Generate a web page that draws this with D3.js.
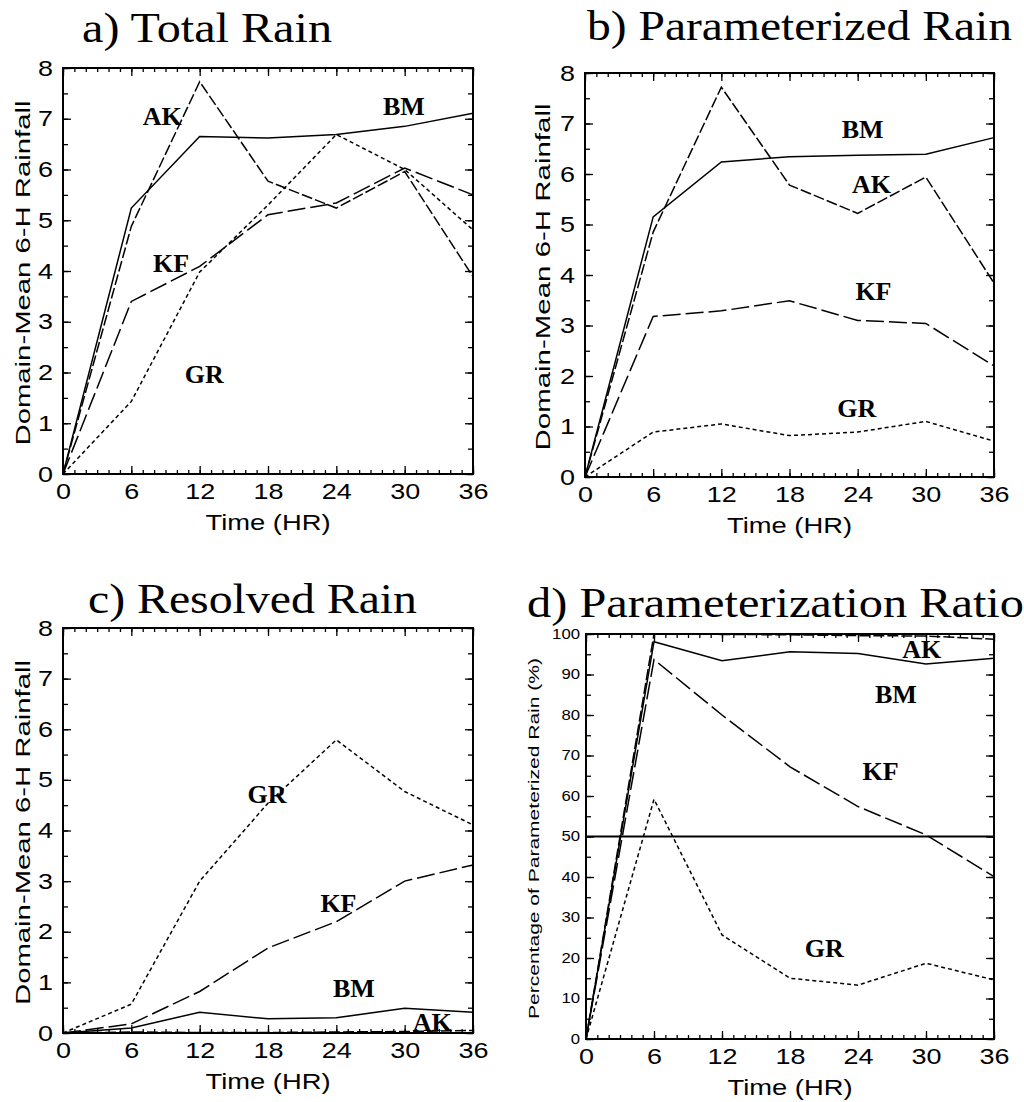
<!DOCTYPE html>
<html>
<head>
<meta charset="utf-8">
<script src="https://cdn.jsdelivr.net/npm/d3@7"></script>
<style>
  html, body { margin: 0; padding: 0; background: #fff; }
  svg { display: block; }
  .title { font-family: "Liberation Serif", "Times New Roman", serif; font-size: 42px; fill: #000; }
  .tick text { font-family: "Liberation Sans", "DejaVu Sans", sans-serif; fill: #000; }
  .axis-title { font-family: "Liberation Sans", "DejaVu Sans", sans-serif; fill: #000; }
  .series-label { font-family: "Liberation Serif", "Times New Roman", serif; font-size: 26px; font-weight: bold; fill: #000; }
  .domain { display: none; }
</style>
</head>
<body>
<svg id="chart" width="1024" height="1102"></svg>
<script>
// Forecast hours
const hours = [0, 6, 12, 18, 24, 30, 36];
const schemes = ["BM", "AK", "KF", "GR"];

// a) Total 6-h domain-mean rainfall
const totalBM = [0, 5.24, 6.65, 6.62, 6.69, 6.85, 7.11];
const totalAK = [0, 4.88, 7.73, 5.77, 5.24, 5.96, 3.89];
const totalKF = [0, 3.40, 4.09, 5.11, 5.34, 6.03, 5.50];
const totalGR = [0, 1.43, 3.98, 5.30, 6.69, 6.00, 4.81];

// b) Parameterized (convective scheme) rainfall
const paramBM = [0, 5.15, 6.24, 6.34, 6.37, 6.39, 6.72];
const paramAK = [0, 4.85, 7.72, 5.78, 5.22, 5.94, 3.84];
const paramKF = [0, 3.18, 3.29, 3.49, 3.10, 3.04, 2.20];
const paramGR = [0, 0.89, 1.05, 0.82, 0.89, 1.10, 0.71];

// c) Resolved (grid-scale) rainfall
const resBM = [0, 0.10, 0.41, 0.28, 0.30, 0.49, 0.41];
const resAK = [0, 0.02, 0.01, 0.01, 0.02, 0.03, 0.05];
const resKF = [0, 0.18, 0.82, 1.68, 2.20, 3.00, 3.32];
const resGR = [0, 0.57, 3.00, 4.54, 5.79, 4.77, 4.11];

// d) Percentage of rain that is parameterized
const ratioBM = [0, 98.1, 93.4, 95.6, 95.2, 92.6, 94.0];
const ratioAK = [0, 100, 99.9, 99.8, 99.6, 99.5, 98.7];
const ratioKF = [0, 93.7, 80.0, 67.2, 57.4, 50.4, 40.1];
const ratioGR = [0, 59.2, 25.7, 15.0, 13.3, 18.7, 14.6];
const ratioReference = 50;

// Tick values
const hourTicks = [0, 6, 12, 18, 24, 30, 36];
const rainTicks = [0, 1, 2, 3, 4, 5, 6, 7, 8];
const percentTicks = [0, 10, 20, 30, 40, 50, 60, 70, 80, 90, 100];

// Scheme label anchors in data units [hour, value]
const labelsA = { AK: [7.0, 6.88], BM: [28.1, 7.07], KF: [7.9, 3.98], GR: [10.7, 1.79] };
const labelsB = { BM: [22.6, 6.71], AK: [23.5, 5.62], KF: [23.8, 3.50], GR: [22.2, 1.19] };
const labelsC = { GR: [16.2, 4.54], KF: [22.6, 2.39], BM: [23.7, 0.71], AK: [30.7, 0.04] };
const labelsD = { AK: [27.9, 94.1], BM: [25.5, 83.0], KF: [24.4, 64.0], GR: [19.3, 20.2] };

// Line styles per scheme
const dashes = { BM: null, AK: "11,3", KF: "18,5", GR: "4,3" };

const svg = d3.select("#chart");

const panels = [
  { title: "a) Total Rain", titleX: 82, titleY: 42, titleW: 250,
    box: { l: 63, r: 473, t: 68, b: 474 }, yMax: 8, yTicks: rainTicks, yMinor: 0.5,
    series: { BM: totalBM, AK: totalAK, KF: totalKF, GR: totalGR }, labels: labelsA,
    yTitle: "Domain-Mean 6-H Rainfall", yTitleX: 30, yTitleLen: 345, yTitleSize: 21, yTickSize: 22, yTickW: 15 },
  { title: "b) Parameterized Rain", titleX: 587, titleY: 40, titleW: 425,
    box: { l: 585, r: 994, t: 73, b: 477 }, yMax: 8, yTicks: rainTicks, yMinor: 0.5,
    series: { BM: paramBM, AK: paramAK, KF: paramKF, GR: paramGR }, labels: labelsB,
    yTitle: "Domain-Mean 6-H Rainfall", yTitleX: 550, yTitleLen: 347, yTitleSize: 21, yTickSize: 22, yTickW: 15 },
  { title: "c) Resolved Rain", titleX: 88, titleY: 613, titleW: 329,
    box: { l: 63, r: 473, t: 628, b: 1033 }, yMax: 8, yTicks: rainTicks, yMinor: 0.5,
    series: { BM: resBM, AK: resAK, KF: resKF, GR: resGR }, labels: labelsC,
    yTitle: "Domain-Mean 6-H Rainfall", yTitleX: 30, yTitleLen: 345, yTitleSize: 21, yTickSize: 22, yTickW: 15 },
  { title: "d) Parameterization Ratio", titleX: 527, titleY: 617, titleW: 497,
    box: { l: 586, r: 994, t: 634, b: 1039 }, yMax: 100, yTicks: percentTicks, yMinor: 5,
    series: { BM: ratioBM, AK: ratioAK, KF: ratioKF, GR: ratioGR }, labels: labelsD, reference: ratioReference,
    yTitle: "Percentage of Parameterized Rain (%)", yTitleX: 539, yTitleLen: 361, yTitleSize: 15, yTickSize: 14, yTickW: 9.3 }
];

panels.forEach(p => {
  const { l, r, t, b } = p.box;
  const x = d3.scaleLinear().domain([0, 36]).range([l, r]);
  const y = d3.scaleLinear().domain([0, p.yMax]).range([b, t]);
  const g = svg.append("g");

  // Panel title
  g.append("text").attr("class", "title")
    .attr("x", p.titleX).attr("y", p.titleY)
    .attr("textLength", p.titleW).attr("lengthAdjust", "spacingAndGlyphs")
    .text(p.title);

  const hourMinor = d3.range(0, 37, 1);
  const yMinor = d3.range(0, p.yMax + 1e-9, p.yMinor);

  // Inward-pointing minor ticks on all four sides
  g.append("g").attr("transform", `translate(0,${b})`)
    .call(d3.axisBottom(x).tickValues(hourMinor).tickSize(-4).tickFormat(""));
  g.append("g").attr("transform", `translate(0,${t})`)
    .call(d3.axisTop(x).tickValues(hourMinor).tickSize(-4).tickFormat(""));
  g.append("g").attr("transform", `translate(${l},0)`)
    .call(d3.axisLeft(y).tickValues(yMinor).tickSize(-5).tickFormat(""));
  g.append("g").attr("transform", `translate(${r},0)`)
    .call(d3.axisRight(y).tickValues(yMinor).tickSize(-5).tickFormat(""));

  // Major ticks with labels
  const xAx = g.append("g").attr("transform", `translate(0,${b})`)
    .call(d3.axisBottom(x).tickValues(hourTicks).tickSize(-8).tickPadding(9).tickFormat(d3.format("d")));
  xAx.selectAll(".tick text")
    .style("font-size", "22px")
    .attr("textLength", d => String(d).length * 15)
    .attr("lengthAdjust", "spacingAndGlyphs");
  g.append("g").attr("transform", `translate(0,${t})`)
    .call(d3.axisTop(x).tickValues(hourTicks).tickSize(-8).tickFormat(""));
  const yAx = g.append("g").attr("transform", `translate(${l},0)`)
    .call(d3.axisLeft(y).tickValues(p.yTicks).tickSize(-8).tickPadding(p.yTickSize > 15 ? 10 : 6).tickFormat(d3.format("d")));
  yAx.selectAll(".tick text")
    .style("font-size", p.yTickSize + "px")
    .attr("textLength", d => String(d).length * p.yTickW)
    .attr("lengthAdjust", "spacingAndGlyphs");
  g.append("g").attr("transform", `translate(${r},0)`)
    .call(d3.axisRight(y).tickValues(p.yTicks).tickSize(-8).tickFormat(""));
  g.selectAll(".tick line").attr("stroke", "#000").attr("stroke-width", 1.3);

  // Frame
  g.append("rect").attr("x", l).attr("y", t).attr("width", r - l).attr("height", b - t)
    .attr("fill", "none").attr("stroke", "#000").attr("stroke-width", 2);

  // Axis titles
  g.append("text").attr("class", "axis-title")
    .attr("x", (l + r) / 2).attr("y", b + 56)
    .attr("text-anchor", "middle").style("font-size", "22px")
    .attr("textLength", 125).attr("lengthAdjust", "spacingAndGlyphs")
    .text("Time (HR)");
  g.append("text").attr("class", "axis-title")
    .attr("transform", `translate(${p.yTitleX},${(t + b) / 2 + 2}) rotate(-90)`)
    .attr("text-anchor", "middle").style("font-size", p.yTitleSize + "px")
    .attr("textLength", p.yTitleLen).attr("lengthAdjust", "spacingAndGlyphs")
    .text(p.yTitle);

  // Reference line
  if (p.reference !== undefined) {
    g.append("line")
      .attr("x1", x(0)).attr("x2", x(36))
      .attr("y1", y(p.reference)).attr("y2", y(p.reference))
      .attr("stroke", "#000").attr("stroke-width", 1.8);
  }

  // Scheme curves
  const line = d3.line().x((d, i) => x(hours[i])).y(d => y(d));
  schemes.forEach(s => {
    g.append("path").datum(p.series[s])
      .attr("d", line)
      .attr("fill", "none").attr("stroke", "#000")
      .attr("stroke-width", 1.5)
      .attr("stroke-dasharray", dashes[s]);
  });

  // Scheme labels
  Object.entries(p.labels).forEach(([s, pos]) => {
    g.append("text").attr("class", "series-label")
      .attr("x", x(pos[0])).attr("y", y(pos[1]))
      .text(s);
  });
});
</script>
</body>
</html>
